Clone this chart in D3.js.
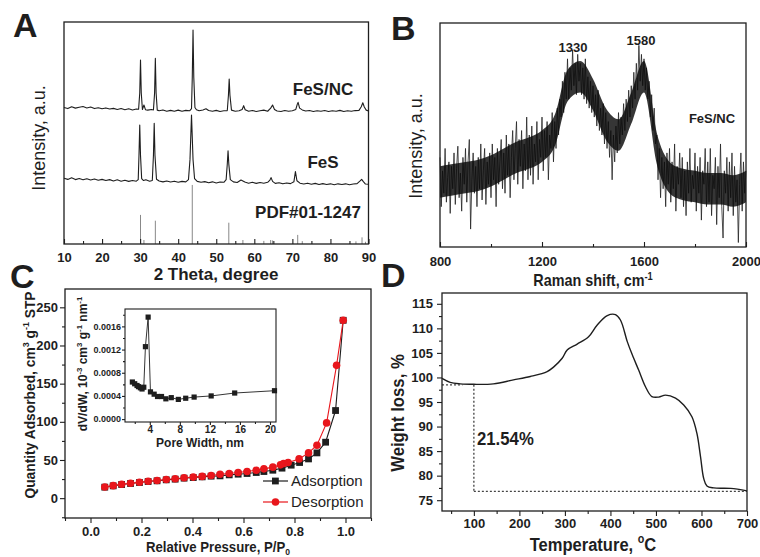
<!DOCTYPE html>
<html>
<head>
<meta charset="utf-8">
<script src="https://cdn.jsdelivr.net/npm/d3@7"></script>
<style>
html, body { margin: 0; padding: 0; background: #fff; }
svg { display: block; }
</style>
</head>
<body>
<svg id="fig" width="760" height="557"></svg>
<script>
// ---- A: XRD, [2theta, intensity a.u.] ----
const xrdFeSNC = [[10,61.5],[11,61.0],[12,61.8],[13,61.2],[14,61.6],[15,61.9],[16,61.3],[17,61.7],[18,61.0],[19,61.4],[20,60.9],[21,61.3],[22,60.8],[23,61.1],[24,60.6],[25,61.0],[26,60.5],[27,60.9],[28,60.4],[29,60.8],[29.6,60.7],[29.9,68],[30.1,82.9],[30.3,68],[30.6,60.6],[31.0,62.6],[31.4,60.5],[32,60.3],[33,60.6],[33.5,60.4],[33.8,68],[34.0,83.6],[34.2,68],[34.5,60.3],[35,60.0],[36,60.4],[37,59.8],[38,60.2],[39,59.8],[40,60.3],[41,59.8],[42,60.2],[43,60.0],[43.5,61],[43.7,75],[43.9,96.4],[44.1,75],[44.4,61.5],[44.8,60.5],[45.5,60.0],[46.5,60.4],[47.3,60.9],[48,60.1],[49,59.8],[50,60.2],[51,59.7],[52,60.0],[52.9,60.1],[53.2,67],[53.4,74.3],[53.6,67],[54,60.3],[55,59.8],[56,60.0],[56.8,60.6],[57.2,62.3],[57.6,60.5],[58.5,59.8],[59.5,60.1],[60.5,59.7],[61.5,60.0],[62.5,60.3],[63.5,59.8],[64.3,61.2],[64.8,62.6],[65.3,60.6],[66,59.9],[67,59.7],[68,60.1],[69,59.8],[70,60.0],[70.9,60.6],[71.3,63.0],[71.5,63.8],[71.9,61.2],[72.6,60.4],[73.5,59.9],[74.5,60.1],[75.5,59.7],[76.5,60.0],[77.5,59.8],[78.5,60.1],[79.5,59.7],[80.5,60.0],[81.5,59.8],[82.5,60.2],[83.5,59.7],[84.5,60.0],[85.5,59.8],[86.5,60.1],[87.5,60.2],[88.1,61.8],[88.5,63.6],[88.9,61.7],[89.4,60.3],[90,59.9]];
const xrdFeS = [[10,29.6],[11,29.1],[12,29.8],[13,29.0],[14,29.5],[15,28.9],[16,29.4],[17,28.8],[18,29.3],[19,28.7],[20,29.1],[21,28.6],[22,29.0],[23,28.4],[24,28.9],[25,28.3],[26,28.7],[27,28.2],[28,28.6],[29,28.3],[29.5,29],[29.7,40],[29.9,53.6],[30.1,40],[30.4,29.5],[30.9,28.6],[31.5,28.9],[32.5,28.3],[33.2,28.6],[33.5,40],[33.7,54.4],[33.9,40],[34.3,29.2],[35,28.4],[36,28.0],[37,28.4],[38,27.9],[39,28.3],[40,27.8],[41,28.2],[42,28.0],[42.7,29],[43.1,38],[43.5,58.1],[43.9,38],[44.3,29.5],[45,28.2],[46,27.8],[47,28.1],[48,27.6],[49,28.0],[50,27.5],[51,27.9],[52,27.8],[52.6,29],[52.9,36],[53.1,42],[53.3,36],[53.7,29],[54.5,28.0],[55.5,27.7],[56.5,28.8],[57.5,27.9],[58.5,27.4],[59.5,27.8],[60.5,27.3],[61.5,27.7],[62.5,27.4],[63.5,27.8],[64.1,28.8],[64.4,29.9],[64.8,28.2],[65.5,27.3],[66.5,27.6],[67.5,27.1],[68.5,27.5],[69.5,27.2],[70.4,28],[70.8,32.6],[71.2,28.5],[72,27.4],[73,27.0],[74,27.4],[75,26.9],[76,27.3],[77,26.8],[78,27.2],[79,26.8],[80,27.1],[81,26.7],[82,27.1],[83,26.8],[84,27.1],[85,26.7],[86,27.0],[87,27.2],[87.8,28.4],[88.2,29.1],[88.6,28.2],[89.2,27.0],[90,26.9]];
const pdfPos = [30.1, 31.0, 34.0, 43.7, 53.3, 57.0, 62.5, 64.3, 64.8, 71.4, 72.6, 86.7, 88.3, 89.2];
const pdfInt = [13.1, 1.8, 10.5, 26.6, 9.6, 1.8, 1.4, 1.8, 1.6, 4.1, 1.3, 1.2, 3.0, 1.0];
const xrdTicks = [10, 20, 30, 40, 50, 60, 70, 80, 90];

// ---- B: Raman, 5 cm-1 steps from 800 to 2000 ----
const ramanShift = d3.range(800, 2000.1, 5);
const ramanIntensity = [
  40,18,34,24,44,20,31,38,15,36, 26,42,19,35,45,22,33,16,40,28,
  44,20,38,48,8,30,42,24,36,18, 40,26,46,21,34,44,19,38,28,42,
  22,46,30,40,18,44,28,38,48,26, 42,24,50,32,46,22,40,52,30,44,
  56,28,48,36,52,26,46,34,58,30, 50,32,54,28,46,38,56,30,48,40,
  58,34,52,40,56,30,50,44,60,38, 56,44,62,50,66,58,74,60,78,66,
  84,66,80,70,88,72,82,68,86,74, 82,68,80,66,84,64,76,62,74,60,
  72,58,68,54,70,52,62,50,64,46, 60,44,56,40,52,30,50,38,54,42,
  60,46,58,50,64,52,66,56,70,58, 72,62,78,66,82,70,90,74,86,72,
  84,70,80,66,74,58,68,52,62,46, 50,30,44,22,40,26,38,18,42,28,
  44,20,38,26,46,16,36,28,42,22, 40,18,34,14,38,24,44,20,32,26,
  42,16,36,24,40,12,34,28,44,18, 38,20,44,14,32,26,40,10,36,22,
  46,18,4,34,24,40,16,38,22,42, 14,36,20,30,2,28,42,16,38,24,
  34];
const ramanCoreShift = d3.range(800, 2000.1, 50);
const ramanCoreLow  = [22,23,24,25,27,30,33,35,38,45,65,69,61,48,43,55,69,37,24,21,20,19,19,18,20];
const ramanCoreHigh = [36,37,38,39,41,44,47,49,52,59,79,83,75,62,57,69,83,51,38,35,34,33,33,32,34];
const ramanTicks = [800, 1200, 1600, 2000];
const ramanMinor = [1000, 1400, 1800];
const ramanPeaks = [1330, 1580];

// ---- C: N2 isotherm ----
const adsP = [0.056,0.089,0.122,0.157,0.192,0.226,0.261,0.297,0.332,0.367,0.403,0.438,0.473,0.508,0.544,0.579,0.614,0.650,0.680,0.715,0.751,0.787,0.820,0.855,0.888,0.922,0.961,0.991];
const adsQ = [14.4,16.1,17.9,19.2,20.5,21.8,22.7,24.0,24.9,26.2,27.0,27.9,28.8,29.2,30.5,31.4,32.3,33.6,34.9,36.6,39.3,43.2,46.7,51.4,59.3,73.3,114.8,233];
const desP = [0.056,0.089,0.122,0.157,0.192,0.226,0.261,0.297,0.332,0.367,0.403,0.438,0.473,0.508,0.544,0.579,0.614,0.650,0.680,0.715,0.745,0.757,0.775,0.818,0.855,0.888,0.926,0.965,0.991];
const desQ = [14.6,16.4,18.2,19.5,20.8,22.1,23.1,24.4,25.4,26.7,27.6,28.5,29.6,31.4,32.3,33.6,35.0,36.6,38.4,40.6,43.6,45.4,46.7,51.4,59.3,69.4,98.6,174,233];
const poreW = [1.68,1.99,2.3,2.5,2.75,2.97,3.2,3.42,3.78,4.09,4.58,5.03,5.56,6.14,6.86,7.8,8.78,9.9,12.17,15.3,20.6];
const dVdW  = [0.00064,0.00061,0.00058,0.00056,0.00054,0.00052,0.00055,0.00125,0.00176,0.00047,0.00043,0.00039,0.00039,0.00035,0.00037,0.00034,0.00036,0.00038,0.0004,0.00045,0.00049];

// ---- D: TGA ----
const tgaT = [30,48,70,100,143,187,224,261,275,294,305,327,352,371,393,411,422,437,448,462,477,491,506,521,543,561,579,590,598,605,612,627,664,700];
const tgaW = [99.8,99.0,98.7,98.6,98.7,99.5,100.2,101.2,102.1,103.9,105.6,106.8,108.3,110.7,112.6,112.8,111.7,107.3,104.6,101.5,98.1,96.1,96.0,96.4,95.8,94.4,92.0,88.6,83.8,79.4,77.9,77.5,77.4,76.9];
const tgaGuide = { t: 100, from: 98.5, to: 76.8, loss: "21.54%" };

const ink = "#1e1e1e";
const fontStack = "'Liberation Sans', Arial, Helvetica, sans-serif";

figure = {

	init: function(){
		const me = figure;
		me.svg = d3.select("#fig").attr("font-family", fontStack);

		me.drawXrd();
		me.drawRaman();
		me.drawBet();
		me.drawTga();
	},

	frame: function(x, y, width){
		const [x0, x1] = x.range(), [y0, y1] = y.range();
		figure.svg.append("rect")
		  .attr("x", x0).attr("y", y1)
		  .attr("width", x1 - x0).attr("height", y0 - y1)
		  .attr("fill", "none")
		  .attr("stroke", ink)
		  .attr("stroke-width", width || 1.3);
	},

	axis: function(gen, at, values, size, pad, fmt, fs){
		const g = figure.svg.append("g")
		  .attr("transform", at)
		  .call(gen.tickValues(values).tickSize(size).tickPadding(pad).tickFormat(fmt || (() => "")));
		g.attr("font-family", fontStack).attr("font-size", fs || 13).attr("font-weight", "bold");
		g.select(".domain").remove();
		g.selectAll(".tick line").attr("stroke", ink).attr("stroke-width", 1.1);
		g.selectAll(".tick text").attr("fill", ink);
		return g;
	},

	// parts: string or list of [text, "sup" | "sub" | ""]
	label: function(x, y, parts, o){
		o = o || {};
		const size = o.size || 14;
		let tf = "translate(" + x + "," + y + ")";
		if (o.rotate) tf += " rotate(" + o.rotate + ")";
		if (o.sx) tf += " scale(" + o.sx + ",1)";
		const t = figure.svg.append("text")
		  .attr("transform", tf)
		  .attr("text-anchor", o.anchor || "middle")
		  .attr("font-size", size)
		  .attr("font-weight", o.weight || "bold")
		  .attr("fill", o.fill || ink);
		let shift = 0;
		(typeof parts === "string" ? [[parts, ""]] : parts).forEach(function(p){
			const target = p[1] === "sup" ? -0.4 * size : p[1] === "sub" ? 0.22 * size : 0;
			t.append("tspan")
			  .attr("dy", target - shift)
			  .attr("font-size", p[1] ? size * 0.65 : size)
			  .text(p[0]);
			shift = target;
		});
		return t;
	},

	drawXrd: function(){
		const me = figure, svg = me.svg;
		const x = d3.scaleLinear([10, 90], [64, 368.5]);
		const y = d3.scaleLinear([0, 100], [244, 22]);
		const line = d3.line().x(d => x(d[0])).y(d => y(d[1]));

		svg.append("g").selectAll("line")
		  .data(pdfPos)
		  .join("line")
		  .attr("x1", d => x(d)).attr("x2", d => x(d))
		  .attr("y1", y(0)).attr("y2", (d, i) => y(pdfInt[i]))
		  .attr("stroke", "#888").attr("stroke-width", 1);

		[xrdFeS, xrdFeSNC].forEach(function(s){
			svg.append("path").datum(s)
			  .attr("d", line)
			  .attr("fill", "none")
			  .attr("stroke", ink)
			  .attr("stroke-width", 1.1)
			  .attr("stroke-linejoin", "round");
		});

		me.frame(x, y);
		me.axis(d3.axisBottom(x), "translate(0,244)", xrdTicks, -5, 9, d3.format("d"));
		me.axis(d3.axisBottom(x), "translate(0,244)", d3.range(15, 90, 10), -3, 9);

		me.label(13, 37, "A", { size: 34, anchor: "start" });
		me.label(45, 138, "Intensity, a.u.", { size: 18, rotate: -90, weight: "normal" });
		me.label(216, 280, "2 Theta, degree", { size: 17 });
		me.label(323, 95, "FeS/NC", { size: 17 });
		me.label(323, 168, "FeS", { size: 17 });
		me.label(308, 218, "PDF#01-1247", { size: 17 });
	},

	drawRaman: function(){
		const me = figure, svg = me.svg;
		const x = d3.scaleLinear([800, 2000], [440, 746]);
		const y = d3.scaleLinear([0, 100], [247, 23]);

		svg.append("path").datum(ramanIntensity)
		  .attr("d", d3.line().x((d, i) => x(ramanShift[i])).y(d => y(d)))
		  .attr("fill", "none")
		  .attr("stroke", "#222")
		  .attr("stroke-width", 0.8);

		svg.append("path").datum(ramanCoreLow)
		  .attr("d", d3.area().curve(d3.curveMonotoneX)
			.x((d, i) => x(ramanCoreShift[i]))
			.y0(d => y(d))
			.y1((d, i) => y(ramanCoreHigh[i])))
		  .attr("fill", "#0a0a0a")
		  .attr("fill-opacity", 0.82);

		me.frame(x, y);
		me.axis(d3.axisBottom(x), "translate(0,247)", ramanTicks, -5, 10, d3.format("d"));
		me.axis(d3.axisBottom(x), "translate(0,247)", ramanMinor, -3, 10);

		me.label(391, 40, "B", { size: 34, anchor: "start" });
		me.label(422, 146, "Intensity, a.u.", { size: 18, rotate: -90, weight: "normal" });
		me.label(593, 286, [["Raman shift, cm", ""], ["-1", "sup"]], { size: 16, sx: 0.9 });
		me.label(573, 52, String(ramanPeaks[0]), { size: 13 });
		me.label(641, 45, String(ramanPeaks[1]), { size: 13 });
		me.label(712, 123, "FeS/NC", { size: 13 });
	},

	drawBet: function(){
		const me = figure, svg = me.svg;
		const x = d3.scaleLinear([-0.1, 1.1], [65, 371]);
		const y = d3.scaleLinear([-26, 274], [518, 289]);
		const red = "#e8161c";

		const ads = adsP.map((p, i) => [p, adsQ[i]]);
		const des = desP.map((p, i) => [p, desQ[i]]);
		const line = d3.line().x(d => x(d[0])).y(d => y(d[1]));

		svg.append("path").datum(ads).attr("d", line)
		  .attr("fill", "none").attr("stroke", ink).attr("stroke-width", 1.1);
		svg.append("g").selectAll("rect").data(ads).join("rect")
		  .attr("x", d => x(d[0]) - 3.4).attr("y", d => y(d[1]) - 3.4)
		  .attr("width", 6.8).attr("height", 6.8).attr("fill", ink);

		svg.append("path").datum(des).attr("d", line)
		  .attr("fill", "none").attr("stroke", red).attr("stroke-width", 1.1);
		svg.append("g").selectAll("circle").data(des).join("circle")
		  .attr("cx", d => x(d[0])).attr("cy", d => y(d[1]))
		  .attr("r", 3.8).attr("fill", red);

		me.frame(x, y);
		me.axis(d3.axisLeft(y), "translate(65,0)", [0, 50, 100, 150, 200, 250], 5, 2, d3.format("d"));
		me.axis(d3.axisLeft(y), "translate(65,0)", [-25, 25, 75, 125, 175, 225], 3, 2);
		me.axis(d3.axisBottom(x), "translate(0,518)", [0, 0.2, 0.4, 0.6, 0.8, 1.0], 5, 4, d3.format(".1f"));
		me.axis(d3.axisBottom(x), "translate(0,518)", [-0.1, 0.1, 0.3, 0.5, 0.7, 0.9, 1.1], 3, 4);

		// legend
		svg.append("line").attr("x1", 263).attr("x2", 288).attr("y1", 481).attr("y2", 481)
		  .attr("stroke", ink).attr("stroke-width", 1.2);
		svg.append("rect").attr("x", 272).attr("y", 477.6).attr("width", 6.8).attr("height", 6.8).attr("fill", ink);
		svg.append("line").attr("x1", 263).attr("x2", 288).attr("y1", 502).attr("y2", 502)
		  .attr("stroke", red).attr("stroke-width", 1.2);
		svg.append("circle").attr("cx", 275.5).attr("cy", 502).attr("r", 3.8).attr("fill", red);
		me.label(291, 486, "Adsorption", { size: 15, anchor: "start", weight: "normal" });
		me.label(291, 507, "Desorption", { size: 15, anchor: "start", weight: "normal" });

		me.label(10, 288, "C", { size: 34, anchor: "start" });
		me.label(35, 395, [["Quantity Adsorbed, cm", ""], ["3", "sup"], [" g", ""], ["-1", "sup"], [" STP", ""]], { size: 15, rotate: -90, sx: 0.92 });
		me.label(218, 552, [["Relative Pressure, P/P", ""], ["0", "sub"]], { size: 15, sx: 0.88 });

		// inset: pore size distribution
		const xi = d3.scaleLinear([0.7, 20.8], [125, 276]);
		const yi = d3.scaleLinear([-0.00005, 0.0019], [422, 309]);
		svg.append("rect").attr("x", 125).attr("y", 309).attr("width", 151).attr("height", 113).attr("fill", "#fff");
		const psd = poreW.map((w, i) => [w, dVdW[i]]);
		svg.append("path").datum(psd)
		  .attr("d", d3.line().x(d => xi(d[0])).y(d => yi(d[1])))
		  .attr("fill", "none").attr("stroke", ink).attr("stroke-width", 0.9);
		svg.append("g").selectAll("rect").data(psd).join("rect")
		  .attr("x", d => xi(d[0]) - 2.6).attr("y", d => yi(d[1]) - 2.6)
		  .attr("width", 5.2).attr("height", 5.2).attr("fill", ink);
		me.frame(xi, yi, 1.1);
		me.axis(d3.axisLeft(yi), "translate(125,0)", [0, 0.0004, 0.0008, 0.0012, 0.0016], 3, 1, d3.format(".4f"), 9);
		me.axis(d3.axisLeft(yi), "translate(125,0)", [0.0002, 0.0006, 0.001, 0.0014, 0.0018], 2, 1);
		me.axis(d3.axisBottom(xi), "translate(0,422)", [4, 8, 12, 16, 20], 3, 1, d3.format("d"), 10);
		me.axis(d3.axisBottom(xi), "translate(0,422)", [2, 6, 10, 14, 18], 2, 1);
		me.label(87, 364, [["dV/dW, 10", ""], ["-3", "sup"], [" cm", ""], ["3", "sup"], [" g", ""], ["-1", "sup"], [" nm", ""], ["-1", "sup"]], { size: 12, rotate: -90 });
		me.label(200, 447, "Pore Width, nm", { size: 12 });
	},

	drawTga: function(){
		const me = figure, svg = me.svg;
		const x = d3.scaleLinear([30, 700], [442, 747]);
		const y = d3.scaleLinear([72.8, 117.2], [511, 293]);

		const pts = tgaT.map((t, i) => [t, tgaW[i]]);
		svg.append("path").datum(pts)
		  .attr("d", d3.line().curve(d3.curveCatmullRom).x(d => x(d[0])).y(d => y(d[1])))
		  .attr("fill", "none").attr("stroke", ink).attr("stroke-width", 1.4);

		const guide = [
			[[30, tgaGuide.from], [75, tgaGuide.from]],
			[[tgaGuide.t, tgaGuide.from], [tgaGuide.t, tgaGuide.to]],
			[[tgaGuide.t, tgaGuide.to], [700, tgaGuide.to]]
		];
		svg.append("g").selectAll("path").data(guide).join("path")
		  .attr("d", d3.line().x(d => x(d[0])).y(d => y(d[1])))
		  .attr("fill", "none").attr("stroke", "#444")
		  .attr("stroke-width", 1.3).attr("stroke-dasharray", "2,2");

		me.frame(x, y);
		me.axis(d3.axisLeft(y), "translate(442,0)", d3.range(75, 116, 5), 5, 4, d3.format("d"));
		me.axis(d3.axisLeft(y), "translate(442,0)", d3.range(77.5, 117, 5), 3, 4);
		me.axis(d3.axisBottom(x), "translate(0,511)", d3.range(100, 701, 100), 5, 3, d3.format("d"));
		me.axis(d3.axisBottom(x), "translate(0,511)", d3.range(50, 700, 100), 3, 3);

		me.label(477, 445, tgaGuide.loss, { size: 18, anchor: "start", sx: 0.93 });
		me.label(381, 287, "D", { size: 34, anchor: "start" });
		me.label(404, 413, "Weight loss, %", { size: 19, rotate: -90, sx: 0.88 });
		me.label(593, 551, [["Temperature, ", ""], ["o", "sup"], ["C", ""]], { size: 19, sx: 0.87 });
	}
}

figure.init();
</script>
</body>
</html>
